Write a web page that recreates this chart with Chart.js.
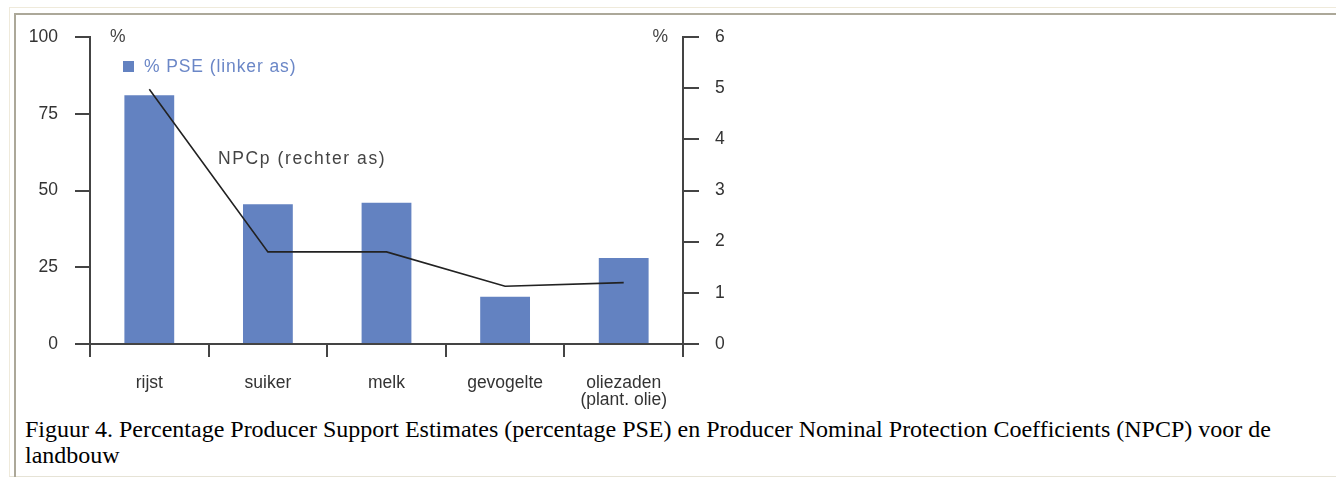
<!DOCTYPE html>
<html>
<head>
<meta charset="utf-8">
<script src="https://cdn.jsdelivr.net/npm/chart.js@4.4.1/dist/chart.umd.min.js"></script>
<style>
  html, body { margin: 0; padding: 0; background: #ffffff; width: 1336px; height: 478px; overflow: hidden; }
  #outer { position: absolute; left: 9px; top: 7px; width: 1340px; height: 468px;
           border-top: 1px solid #efeadb; border-left: 1px solid #efeadb; border-bottom: 1px solid #e6e3d6; }
  #inner { position: absolute; left: 14px; top: 13px; width: 1340px; height: 462px;
           border-top: 2px solid #aca899; border-left: 2px solid #aca899; }
  #chartBox { position: absolute; left: 0; top: 0; width: 760px; height: 413px; }
  #caption { position: absolute; left: 25px; top: 416px; font-family: "Liberation Serif", "Times New Roman", serif;
             font-size: 24px; line-height: 26px; color: #000; white-space: nowrap; }
</style>
</head>
<body>
<div id="outer"></div>
<div id="inner"></div>
<div id="chartBox"><canvas id="c"></canvas></div>
<div id="caption">Figuur 4. Percentage Producer Support Estimates (percentage PSE) en Producer Nominal Protection Coefficients (NPCP) voor de<br>landbouw</div>
<script>
const categories = ["rijst", "suiker", "melk", "gevogelte", ["oliezaden", "(plant. olie)"]];
const psePercent = [81, 45.5, 46, 15.4, 28];
const npcp = [4.98, 1.8, 1.8, 1.13, 1.2];
const leftTicks = [0, 25, 50, 75, 100];
const rightTicks = [0, 1, 2, 3, 4, 5, 6];
const pseLabel = "% PSE (linker as)";
const npcpLabel = "NPCp (rechter as)";

const FONT = '"Liberation Sans", Arial, sans-serif';
const AXIS = '#444444';
const BAR = '#6382c1';

const annotations = {
  id: 'annotations',
  afterDraw(chart) {
    const ctx = chart.ctx;
    const ca = chart.chartArea;
    ctx.save();
    ctx.textBaseline = 'middle';
    ctx.font = '17.5px ' + FONT;
    ctx.fillStyle = '#444';
    ctx.textAlign = 'left';
    ctx.fillText('%', ca.left + 20, ca.top + 0);
    ctx.textAlign = 'right';
    ctx.fillText('%', ca.right - 15, ca.top + 0);
    // legend
    ctx.fillStyle = BAR;
    ctx.fillRect(ca.left + 33, ca.top + 24, 11, 11);
    ctx.fillStyle = '#6b87c7';
    ctx.textAlign = 'left';
    if ('letterSpacing' in ctx) ctx.letterSpacing = '0.9px';
    ctx.fillText(pseLabel, ca.left + 54, ca.top + 30);
    // line label
    ctx.fillStyle = '#444';
    if ('letterSpacing' in ctx) ctx.letterSpacing = '1.6px';
    ctx.fillText(npcpLabel, ca.left + 128, ca.top + 122);
    ctx.restore();
  }
};

new Chart(document.getElementById('c'), {
  data: {
    labels: categories,
    datasets: [
      {
        type: 'line',
        data: npcp,
        yAxisID: 'y1',
        borderColor: '#222222',
        borderWidth: 1.6,
        pointRadius: 0,
        tension: 0,
        order: 0
      },
      {
        type: 'bar',
        data: psePercent,
        yAxisID: 'y',
        backgroundColor: BAR,
        borderWidth: 0,
        barPercentage: 0.42,
        categoryPercentage: 1.0,
        order: 1
      }
    ]
  },
  plugins: [annotations],
  options: {
    responsive: true,
    maintainAspectRatio: false,
    animation: false,
    layout: { padding: { left: 0, right: 0, top: 37, bottom: 0 } },
    plugins: { legend: { display: false }, tooltip: { enabled: false } },
    scales: {
      x: {
        type: 'category',
        offset: true,
        grid: { display: true, drawOnChartArea: false, offset: true, tickLength: 13, color: AXIS, lineWidth: 2 },
        border: { display: true, color: AXIS, width: 2 },
        ticks: { color: '#333', font: { family: FONT, size: 17.5, lineHeight: 0.95 }, padding: 18, maxRotation: 0, autoSkip: false },
        afterFit(s) { s.height = 69; }
      },
      y: {
        position: 'left',
        min: 0, max: 100,
        afterBuildTicks(s) { s.ticks = leftTicks.map(v => ({ value: v })); },
        grid: { display: true, drawOnChartArea: false, tickLength: 15, color: AXIS, lineWidth: 2 },
        border: { display: true, color: AXIS, width: 2 },
        ticks: { color: '#333', font: { family: FONT, size: 17.5 }, padding: 17 },
        afterFit(s) { s.width = 90; }
      },
      y1: {
        position: 'right',
        min: 0, max: 6,
        afterBuildTicks(s) { s.ticks = rightTicks.map(v => ({ value: v })); },
        grid: { display: true, drawOnChartArea: false, tickLength: 16, color: AXIS, lineWidth: 2 },
        border: { display: true, color: AXIS, width: 2 },
        ticks: { color: '#333', font: { family: FONT, size: 17.5 }, padding: 16 },
        afterFit(s) { s.width = 77; }
      }
    }
  }
});
</script>
</body>
</html>
